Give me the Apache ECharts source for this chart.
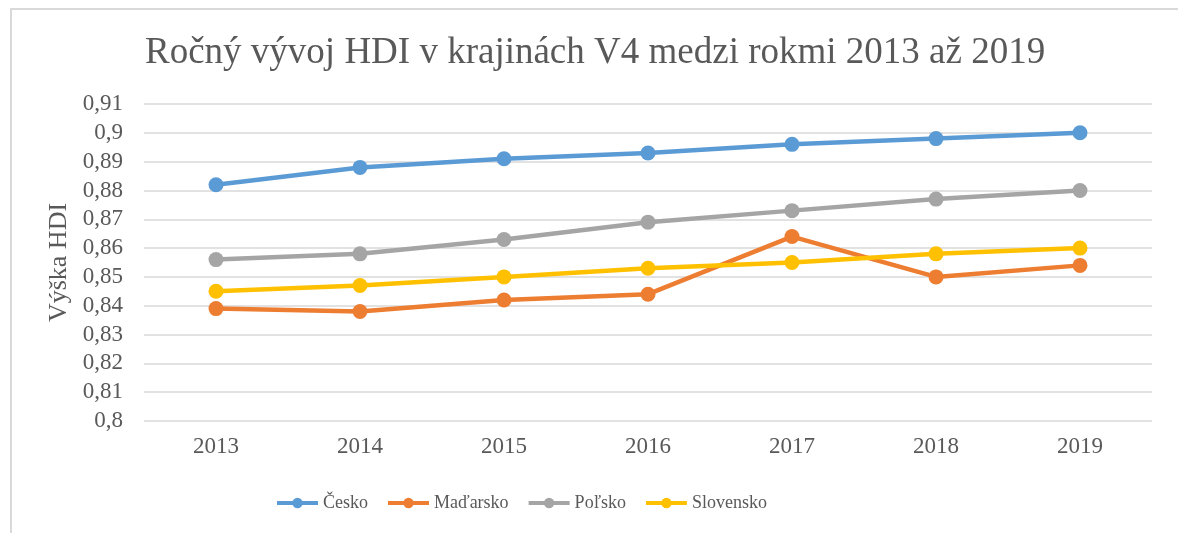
<!DOCTYPE html>
<html>
<head>
<meta charset="utf-8">
<script src="https://cdn.jsdelivr.net/npm/echarts@6/dist/echarts.min.js"></script>
<style>
  html, body { margin: 0; padding: 0; background: #fff; }
  #frame {
    position: absolute; left: 10px; top: 8px; width: 1300px; height: 700px;
    border-top: 2px solid #d9d9d9; border-left: 2px solid #d9d9d9;
  }
  #chart { position: absolute; left: 0; top: 0; width: 1178px; height: 533px; }
</style>
</head>
<body>
<div id="frame"></div>
<div id="chart"></div>
<script>
  // roky
  var years = ['2013', '2014', '2015', '2016', '2017', '2018', '2019'];
  // HDI podľa krajín
  var cesko     = [0.882, 0.888, 0.891, 0.893, 0.896, 0.898, 0.900];
  var madarsko  = [0.839, 0.838, 0.842, 0.844, 0.864, 0.850, 0.854];
  var polsko    = [0.856, 0.858, 0.863, 0.869, 0.873, 0.877, 0.880];
  var slovensko = [0.845, 0.847, 0.850, 0.853, 0.855, 0.858, 0.860];

  var seriesNames = ['Česko', 'Maďarsko', 'Poľsko', 'Slovensko'];
  var seriesData = [cesko, madarsko, polsko, slovensko];
  var colors = ['#5b9bd5', '#ed7d31', '#a5a5a5', '#ffc000'];

  var font = '"Liberation Serif", "DejaVu Serif", serif';
  var textColor = '#595959';

  var chart = echarts.init(document.getElementById('chart'));

  var series = [];
  for (var i = 0; i < seriesNames.length; i++) {
    series.push({
      name: seriesNames[i],
      type: 'line',
      data: seriesData[i],
      symbol: 'circle',
      symbolSize: 15,
      lineStyle: { width: 4.5, color: colors[i] },
      itemStyle: { color: colors[i] },
      z: 3
    });
  }

  var option = {
    animation: false,
    color: colors,
    title: {
      text: 'Ročný vývoj HDI v krajinách V4 medzi rokmi 2013 až 2019',
      left: 140,
      top: 30,
      textStyle: {
        fontFamily: font,
        fontSize: 37,
        fontWeight: 'normal',
        color: textColor
      }
    },
    legend: {
      data: seriesNames,
      left: 270,
      top: 489,
      itemWidth: 41,
      itemHeight: 13,
      itemGap: 18,
      lineStyle: { width: 4 },
      textStyle: { fontFamily: font, fontSize: 18, color: textColor }
    },
    grid: {
      left: 144,
      right: 26,
      top: 104,
      bottom: 112
    },
    xAxis: {
      type: 'category',
      data: years,
      axisLine: { show: false },
      axisTick: { show: false },
      axisLabel: {
        fontFamily: font,
        fontSize: 23,
        color: textColor,
        margin: 14
      }
    },
    yAxis: {
      type: 'value',
      min: 0.8,
      max: 0.91,
      interval: 0.01,
      name: 'Výška HDI',
      nameLocation: 'middle',
      nameGap: 70,
      nameTextStyle: { fontFamily: font, fontSize: 26, color: textColor },
      axisLine: { show: false },
      axisTick: { show: false },
      axisLabel: {
        fontFamily: font,
        fontSize: 23,
        color: textColor,
        margin: 21,
        formatter: function (v) {
          return String(parseFloat(v.toFixed(2))).replace('.', ',');
        }
      },
      splitLine: { lineStyle: { color: '#d9d9d9', width: 1.5 } }
    },
    series: series
  };

  chart.setOption(option);
</script>
</body>
</html>
